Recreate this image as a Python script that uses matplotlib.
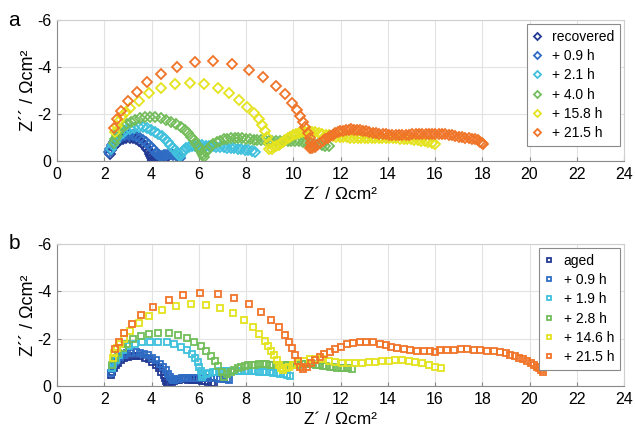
import numpy as np
import matplotlib
matplotlib.use('Agg')
from matplotlib import pyplot as plt

# ---- panel a data (Z', Z'' in Ohm cm2) ----
a_labels = ['recovered', '+ 0.9 h', '+ 2.1 h', '+ 4.0 h', '+ 15.8 h', '+ 21.5 h']

a_rec_x = [2.25, 2.3, 2.38, 2.47, 2.57, 2.68, 2.8, 2.93, 3.07, 3.21, 3.35, 3.48, 3.6, 3.71, 3.8, 3.88,
           3.94, 3.99, 4.03, 4.06, 4.08, 4.1, 4.13, 4.17, 4.22, 4.28, 4.34, 4.4, 4.46, 4.52, 4.58]
a_rec_y = [-0.3, -0.45, -0.58, -0.7, -0.8, -0.88, -0.94, -0.98, -0.99, -0.97, -0.92, -0.85, -0.76, -0.65,
           -0.53, -0.41, -0.3, -0.2, -0.12, -0.06, -0.03, -0.04, -0.06, -0.08, -0.1, -0.11, -0.12, -0.12,
           -0.11, -0.1, -0.08]

a_09_x = [2.2, 2.25, 2.32, 2.41, 2.51, 2.62, 2.75, 2.89, 3.04, 3.2, 3.36, 3.51, 3.65, 3.78, 3.9, 4.0,
          4.09, 4.17, 4.24, 4.3, 4.36, 4.43, 4.52, 4.62, 4.72, 4.82, 4.92, 5.02, 5.1, 5.17, 5.22]
a_09_y = [-0.38, -0.52, -0.66, -0.79, -0.9, -0.99, -1.06, -1.1, -1.12, -1.11, -1.07, -1.0, -0.91, -0.8,
          -0.68, -0.56, -0.45, -0.36, -0.29, -0.24, -0.22, -0.23, -0.25, -0.27, -0.28, -0.28, -0.27,
          -0.25, -0.22, -0.18, -0.14]

a_21_x = [2.3, 2.36, 2.44, 2.54, 2.66, 2.79, 2.94, 3.1, 3.27, 3.45, 3.63, 3.81, 3.98, 4.14, 4.29, 4.43,
          4.56, 4.68, 4.79, 4.89, 4.98, 5.06, 5.13, 5.18, 5.21, 5.28, 5.36, 5.46, 5.58, 5.72, 5.86, 6.0,
          6.15, 6.3, 6.45, 6.6, 6.75, 6.9, 7.05, 7.2, 7.35, 7.5, 7.65, 7.8, 7.95, 8.1, 8.25, 8.38]
a_21_y = [-0.5, -0.66, -0.82, -0.96, -1.09, -1.2, -1.3, -1.37, -1.42, -1.44, -1.43, -1.39, -1.33, -1.25,
          -1.16, -1.05, -0.93, -0.81, -0.69, -0.57, -0.47, -0.38, -0.3, -0.25, -0.22, -0.35, -0.46,
          -0.54, -0.6, -0.63, -0.65, -0.66, -0.66, -0.65, -0.64, -0.63, -0.61, -0.6, -0.58, -0.57,
          -0.55, -0.54, -0.52, -0.5, -0.48, -0.45, -0.42, -0.38]

a_40_x = [2.4, 2.45, 2.52, 2.6, 2.7, 2.82, 2.96, 3.12, 3.3, 3.5, 3.71, 3.93, 4.16, 4.39, 4.62, 4.84,
          5.05, 5.24, 5.41, 5.56, 5.69, 5.8, 5.9, 5.99, 6.07, 6.14, 6.2, 6.24,
          6.3, 6.4, 6.5, 6.62, 6.76, 6.9, 7.05, 7.2, 7.36, 7.52, 7.68, 7.84, 8.0, 8.16, 8.32, 8.48,
          8.64, 8.8, 8.96, 9.12, 9.28, 9.44, 9.6, 9.76, 9.92, 10.08, 10.24, 10.4, 10.56, 10.72,
          10.88, 11.04, 11.2, 11.35, 11.5]
a_40_y = [-0.75, -0.92, -1.08, -1.22, -1.35, -1.47, -1.58, -1.68, -1.76, -1.82, -1.86, -1.87, -1.86,
          -1.82, -1.76, -1.68, -1.58, -1.46, -1.33, -1.19, -1.04, -0.89, -0.74, -0.6, -0.46, -0.34,
          -0.24, -0.17,
          -0.38, -0.52, -0.63, -0.72, -0.8, -0.86, -0.92, -0.95, -0.97, -0.98, -0.98, -0.97, -0.95,
          -0.93, -0.91, -0.9, -0.89, -0.88, -0.87, -0.87, -0.87, -0.87, -0.87, -0.86, -0.85, -0.84,
          -0.83, -0.81, -0.79, -0.77, -0.74, -0.71, -0.68, -0.65, -0.62]

a_158_x = [2.45, 2.52, 2.62, 2.75, 2.9, 3.08, 3.45, 3.88, 4.41, 5.0, 5.61, 6.23, 6.81, 7.3, 7.72, 8.04,
           8.32, 8.53, 8.67, 8.79, 8.89, 8.96, 8.99, 9.1, 9.19, 9.28, 9.38, 9.47, 9.56, 9.66, 9.76,
           9.87, 9.99, 10.11, 10.23, 10.37, 10.51, 10.65, 10.79, 10.93, 11.07, 11.22, 11.37, 11.52,
           11.67, 11.82, 11.97, 12.12, 12.27, 12.42, 12.57, 12.72, 12.87, 13.02, 13.17, 13.32, 13.47,
           13.62, 13.77, 13.92, 14.07, 14.22, 14.37, 14.52, 14.67, 14.82, 14.97, 15.12, 15.27, 15.42,
           15.57, 15.72, 15.86, 16.0]
a_158_y = [-1.25, -1.5, -1.72, -1.92, -2.08, -2.24, -2.57, -2.88, -3.12, -3.28, -3.33, -3.26, -3.09,
           -2.88, -2.6, -2.31, -2.03, -1.77, -1.53, -1.29, -1.01, -0.75, -0.52, -0.52, -0.58, -0.63,
           -0.68, -0.75, -0.82, -0.9, -0.97, -1.04, -1.11, -1.16, -1.2, -1.23, -1.25, -1.26, -1.25,
           -1.23, -1.2, -1.16, -1.12, -1.09, -1.06, -1.04, -1.03, -1.02, -1.01, -1.0, -1.0, -1.0,
           -1.0, -1.0, -1.0, -1.0, -1.0, -0.99, -0.98, -0.98, -0.97, -0.96, -0.96, -0.95, -0.94,
           -0.93, -0.92, -0.9, -0.88, -0.86, -0.83, -0.8, -0.76, -0.71]

a_215_x = [2.4, 2.53, 2.72, 3.01, 3.38, 3.83, 4.42, 5.07, 5.85, 6.62, 7.4, 8.11, 8.74, 9.25, 9.66, 9.96,
           10.16, 10.3, 10.41, 10.51, 10.61, 10.69, 10.76, 10.8, 10.72, 10.78, 10.9, 11.02, 11.14,
           11.25, 11.36, 11.47, 11.57, 11.68, 11.78, 11.89, 11.99, 12.11, 12.23, 12.35, 12.46, 12.58,
           12.7, 12.82, 12.94, 13.08, 13.22, 13.36, 13.5, 13.64, 13.78, 13.92, 14.06, 14.2, 14.34,
           14.48, 14.62, 14.76, 14.9, 15.04, 15.18, 15.32, 15.46, 15.6, 15.74, 15.88, 16.02, 16.16,
           16.3, 16.44, 16.58, 16.72, 16.86, 17.0, 17.14, 17.28, 17.42, 17.56, 17.7, 17.82, 17.92,
           18.0, 18.05]
a_215_y = [-1.42, -1.79, -2.13, -2.54, -2.95, -3.35, -3.7, -4.0, -4.2, -4.24, -4.13, -3.89, -3.57, -3.2,
           -2.84, -2.47, -2.17, -1.91, -1.67, -1.43, -1.18, -0.97, -0.78, -0.62, -0.55, -0.56, -0.6,
           -0.67, -0.75, -0.84, -0.92, -0.99, -1.06, -1.12, -1.18, -1.22, -1.26, -1.29, -1.32, -1.34,
           -1.35, -1.34, -1.32, -1.3, -1.28, -1.26, -1.23, -1.21, -1.19, -1.17, -1.15, -1.13, -1.12,
           -1.11, -1.1, -1.1, -1.1, -1.11, -1.12, -1.13, -1.14, -1.15, -1.16, -1.17, -1.17, -1.17,
           -1.17, -1.16, -1.15, -1.13, -1.11, -1.09, -1.07, -1.04, -1.02, -0.99, -0.97, -0.95, -0.92,
           -0.88, -0.82, -0.77, -0.72]

# ---- panel b data ----
b_labels = ['aged', '+ 0.9 h', '+ 1.9 h', '+ 2.8 h', '+ 14.6 h', '+ 21.5 h']

b_aged_x = [2.3, 2.34, 2.4, 2.48, 2.58, 2.7, 2.84, 3.0, 3.17, 3.35, 3.53, 3.71, 3.88, 4.04, 4.18, 4.31,
            4.42, 4.51, 4.58, 4.63, 4.67, 4.7, 4.76, 4.85, 4.95, 5.06, 5.18, 5.3, 5.43, 5.56, 5.7,
            5.84, 5.98, 6.12, 6.26, 6.4, 6.54, 6.66]
b_aged_y = [-0.45, -0.6, -0.74, -0.87, -0.99, -1.09, -1.17, -1.23, -1.26, -1.27, -1.25, -1.2, -1.12,
            -1.01, -0.88, -0.74, -0.59, -0.45, -0.32, -0.21, -0.12, -0.06, -0.1, -0.15, -0.2, -0.24,
            -0.27, -0.28, -0.28, -0.27, -0.26, -0.25, -0.24, -0.22, -0.2, -0.17, -0.14, -0.1]

b_09_x = [2.28, 2.32, 2.38, 2.46, 2.56, 2.68, 2.82, 2.98, 3.15, 3.33, 3.51, 3.69, 3.87, 4.04, 4.2, 4.35,
          4.48, 4.6, 4.7, 4.78, 4.85, 4.9, 4.97, 5.06, 5.16, 5.27, 5.39, 5.52, 5.66, 5.8, 5.94, 6.08,
          6.22, 6.36, 6.5, 6.64, 6.78, 6.92, 7.06, 7.2, 7.3]
b_09_y = [-0.55, -0.72, -0.88, -1.02, -1.14, -1.24, -1.32, -1.38, -1.41, -1.42, -1.4, -1.36, -1.29, -1.2,
          -1.08, -0.95, -0.81, -0.66, -0.52, -0.4, -0.3, -0.24, -0.25, -0.28, -0.31, -0.33, -0.34,
          -0.35, -0.35, -0.35, -0.34, -0.34, -0.34, -0.33, -0.33, -0.32, -0.32, -0.31, -0.3, -0.29,
          -0.27]

b_19_x = [2.33, 2.39, 2.49, 2.63, 2.81, 3.05, 3.31, 3.61, 3.94, 4.29, 4.65, 4.96, 5.25, 5.52, 5.7, 5.84,
          5.95, 6.03, 6.09, 6.12, 6.14, 6.2, 6.32, 6.45, 6.6, 6.75, 6.9, 7.05, 7.2, 7.35, 7.5, 7.65,
          7.8, 7.95, 8.1, 8.25, 8.4, 8.55, 8.7, 8.85, 9.0, 9.15, 9.3, 9.45, 9.6, 9.75, 9.85]
b_19_y = [-0.75, -0.92, -1.1, -1.31, -1.52, -1.69, -1.78, -1.85, -1.87, -1.87, -1.85, -1.78, -1.66,
          -1.52, -1.36, -1.19, -1.0, -0.82, -0.65, -0.5, -0.36, -0.45, -0.52, -0.57, -0.6, -0.61,
          -0.62, -0.62, -0.62, -0.62, -0.62, -0.62, -0.62, -0.62, -0.62, -0.62, -0.62, -0.61, -0.6,
          -0.59, -0.58, -0.56, -0.54, -0.52, -0.49, -0.46, -0.42]

b_28_x = [2.32, 2.46, 2.6, 2.78, 2.98, 3.23, 3.55, 3.91, 4.29, 4.72, 5.11, 5.49, 5.81, 6.09, 6.31, 6.51,
          6.69, 6.83, 6.98, 7.08, 7.2, 7.35, 7.5, 7.65, 7.8, 7.95, 8.1, 8.25, 8.4, 8.55, 8.7, 8.85,
          9.0, 9.15, 9.3, 9.45, 9.6, 9.75, 9.9, 10.05, 10.2, 10.35, 10.5, 10.65, 10.8, 10.95, 11.1,
          11.25, 11.4, 11.55, 11.7, 11.85, 12.0, 12.15, 12.3, 12.5]
b_28_y = [-0.9, -1.17, -1.38, -1.59, -1.78, -1.97, -2.11, -2.2, -2.23, -2.23, -2.16, -2.03, -1.87,
          -1.69, -1.49, -1.28, -1.07, -0.85, -0.61, -0.39, -0.5, -0.6, -0.68, -0.75, -0.8, -0.84,
          -0.87, -0.89, -0.9, -0.91, -0.91, -0.91, -0.9, -0.9, -0.89, -0.88, -0.88, -0.87, -0.87,
          -0.88, -0.9, -0.91, -0.92, -0.92, -0.91, -0.9, -0.88, -0.86, -0.84, -0.82, -0.8, -0.78,
          -0.77, -0.76, -0.74, -0.72]

b_146_x = [2.38, 2.42, 2.53, 2.67, 2.84, 3.09, 3.47, 3.91, 4.46, 5.03, 5.67, 6.3, 6.91, 7.44, 7.92, 8.29,
           8.57, 8.81, 8.95, 9.07, 9.19, 9.31, 9.41, 9.48, 9.56, 9.7, 9.84, 10.01, 10.22, 10.44, 10.69,
           10.93, 11.22, 11.5, 11.78, 12.06, 12.34, 12.63, 12.91, 13.19, 13.47, 13.76, 14.04, 14.32,
           14.6, 14.89, 15.17, 15.45, 15.73, 16.02, 16.26]
b_146_y = [-1.2, -1.38, -1.59, -1.78, -1.99, -2.33, -2.65, -2.95, -3.21, -3.4, -3.47, -3.44, -3.29,
           -3.07, -2.79, -2.48, -2.2, -1.92, -1.69, -1.49, -1.3, -1.1, -0.89, -0.75, -0.68, -0.75,
           -0.82, -0.9, -0.99, -1.06, -1.13, -1.14, -1.13, -1.07, -1.03, -0.99, -0.96, -0.96, -0.97,
           -1.0, -1.03, -1.06, -1.07, -1.09, -1.09, -1.06, -1.01, -0.96, -0.89, -0.82, -0.75]

b_215_x = [2.46, 2.63, 2.84, 3.16, 3.57, 4.08, 4.72, 5.35, 6.06, 6.8, 7.48, 8.11, 8.63, 9.06, 9.38,
           9.63, 9.8, 9.94, 10.08, 10.18, 10.3, 10.41, 10.58, 10.75, 10.93, 11.12, 11.31, 11.54, 11.78,
           12.02, 12.27, 12.53, 12.81, 13.09, 13.38, 13.66, 13.91, 14.14, 14.39, 14.67, 14.96, 15.24,
           15.52, 15.8, 16.02, 16.23, 16.51, 16.79, 17.08, 17.36, 17.64, 17.92, 18.21, 18.49, 18.77,
           19.0, 19.19, 19.38, 19.55, 19.72, 19.9, 20.05, 20.19, 20.3, 20.4, 20.5, 20.58]
b_215_y = [-1.55, -1.87, -2.23, -2.61, -3.0, -3.34, -3.62, -3.85, -3.92, -3.88, -3.72, -3.46, -3.14,
           -2.8, -2.49, -2.17, -1.88, -1.59, -1.31, -1.07, -0.82, -0.73, -0.82, -0.96, -1.1, -1.21,
           -1.34, -1.45, -1.56, -1.66, -1.76, -1.83, -1.86, -1.86, -1.85, -1.78, -1.72, -1.66, -1.61,
           -1.56, -1.52, -1.49, -1.49, -1.48, -1.45, -1.51, -1.52, -1.53, -1.55, -1.55, -1.52, -1.51,
           -1.49, -1.48, -1.45, -1.38, -1.31, -1.26, -1.2, -1.14, -1.07, -0.98, -0.89, -0.82, -0.75,
           -0.68, -0.61]

colors = ['#233a94', '#2f6cc4', '#3fc0dc', '#72bd5a', '#e4e31e', '#f07428']

a_series = [(a_rec_x, a_rec_y), (a_09_x, a_09_y), (a_21_x, a_21_y),
            (a_40_x, a_40_y), (a_158_x, a_158_y), (a_215_x, a_215_y)]
b_series = [(b_aged_x, b_aged_y), (b_09_x, b_09_y), (b_19_x, b_19_y),
            (b_28_x, b_28_y), (b_146_x, b_146_y), (b_215_x, b_215_y)]

plt.rcParams['font.family'] = ['Liberation Sans', 'DejaVu Sans']
plt.rcParams['axes.unicode_minus'] = False
plt.rcParams['font.size'] = 11

fig = plt.figure(figsize=(6.35, 4.29), dpi=100)
ax_a = fig.add_axes([57 / 635, 1 - 161 / 429, 567 / 635, 141 / 429])
ax_b = fig.add_axes([57 / 635, 1 - 386 / 429, 567 / 635, 142 / 429])


def draw_panel(ax, series, labels, marker, ms):
    for (x, y), lab, c in zip(series, labels, colors):
        ax.plot(x, y, linestyle='none', marker=marker, ms=ms, mfc='none', mec=c, mew=1.3, label=lab)
    ax.set_xlim(0, 24)
    ax.set_ylim(0, -6)
    ax.set_xticks(np.arange(0, 25, 2))
    ax.set_yticks([0, -2, -4, -6])
    ax.grid(True, color='#e2e2e2', linewidth=0.8)
    ax.set_axisbelow(True)
    ax.tick_params(direction='in', length=3, color='#888888', labelsize=11.5, pad=4)
    for side in ['left', 'bottom']:
        ax.spines[side].set_color('#8a8a8a')
    for side in ['top', 'right']:
        ax.spines[side].set_color('#cfcfcf')
    ax.set_xlabel('Z\u00b4 / \u03a9cm\u00b2', fontsize=12.5)
    ax.set_ylabel('Z\u00b4\u00b4 / \u03a9cm\u00b2', fontsize=13)
    ax.xaxis.set_label_coords(0.5, -0.185)
    ax.yaxis.set_label_coords(-0.036, 0.5)
    leg = ax.legend(loc='upper right', fontsize=10, handlelength=0.7, handletextpad=0.7,
                    labelspacing=0.38, borderpad=0.4, borderaxespad=0.3, fancybox=False,
                    framealpha=1, edgecolor='#8a8a8a', markerscale=0.75)
    leg.get_frame().set_linewidth(0.8)


draw_panel(ax_a, a_series, a_labels, 'D', 4.8)
draw_panel(ax_b, b_series, b_labels, 's', 4.6)

fig.text(14 / 635, 1 - 21 / 429, 'a', fontsize=15, ha='center', va='center')
fig.text(14 / 635, 1 - 244 / 429, 'b', fontsize=15, ha='center', va='center')

plt.savefig('out.png', dpi=100)
